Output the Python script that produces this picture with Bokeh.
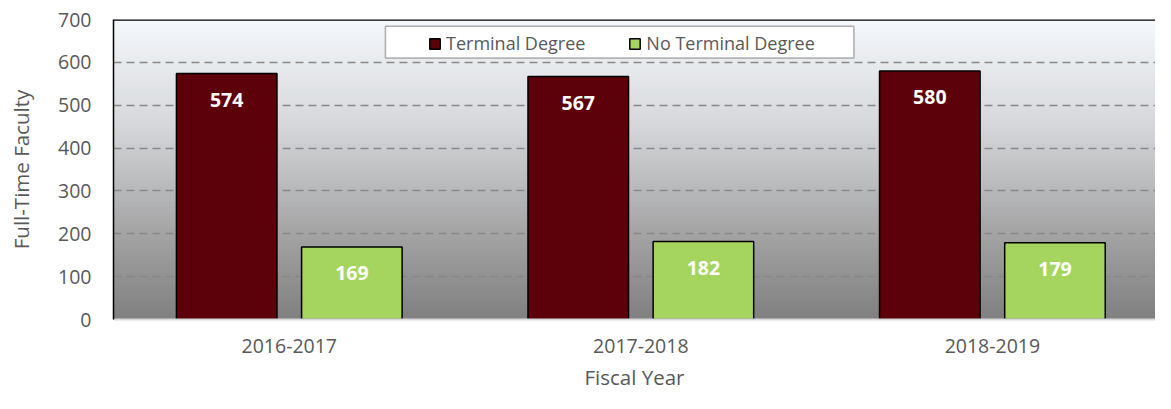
from bokeh.plotting import figure
from bokeh.models import (Range1d, FixedTicker, ColumnDataSource, Span, Legend,
                          LegendItem, BoxAnnotation)
from bokeh.core.properties import value
from bokeh.embed import file_html
from bokeh.resources import INLINE

# ---------------- data ----------------
years = ["2016-2017", "2017-2018", "2018-2019"]
terminal = [574, 567, 580]
no_terminal = [169, 182, 179]
y_ticks = [0, 100, 200, 300, 400, 500, 600, 700]
series_names = ["Terminal Degree", "No Terminal Degree"]

# ---------------- style ----------------
FONT = "Open Sans"
TXT = "#595959"
MAROON = "#5c0009"
GREEN = "#a5d55f"
X_END = 2.964          # the reference's plot area runs past the right edge
OFF = 0.178
BAR_W = 0.286

W, H = 1155, 393
p = figure(width=W, height=H, output_backend="svg", toolbar_location=None,
           x_range=Range1d(0, X_END), y_range=Range1d(0, 700),
           min_border_left=113, min_border_right=0, min_border_top=19,
           min_border_bottom=74)
p.border_fill_color = "white"
p.outline_line_color = None

# gradient plot-area background (light top -> gray bottom)
stops = [(0.0, (245, 248, 252)), (0.35, (214, 216, 219)),
         (0.7, (166, 166, 167)), (1.0, (128, 128, 128))]


def grad(t):
    for (t0, c0), (t1, c1) in zip(stops[:-1], stops[1:]):
        if t <= t1:
            f = (t - t0) / (t1 - t0)
            return "#%02x%02x%02x" % tuple(int(round(a + (b - a) * f)) for a, b in zip(c0, c1))
    return "#808080"


nb = 100
step = 700 / nb
bt, bb, bc = [], [], []
for i in range(nb):
    top = 700 - step * i
    bt.append(min(700, top + step * 0.5))
    bb.append(top - step)
    bc.append(grad((i + 0.5) / nb))
bg = p.quad(left=0, right=X_END, top=bt, bottom=bb, fill_color=bc,
            line_color=None)
bg.level = "image"

# grid
p.xgrid.visible = False
p.ygrid.ticker = FixedTicker(ticks=y_ticks[1:-1])
p.ygrid.grid_line_color = "#888888"
p.ygrid.grid_line_width = 1.5
p.ygrid.grid_line_dash = "8 5"

# top border line
p.add_layout(Span(location=700, dimension="width", line_color="black", line_width=2.5))

# bars
centers = [i + 0.5 for i in range(len(years))]
src = ColumnDataSource(dict(
    xt=[c - OFF for c in centers], xn=[c + OFF for c in centers],
    t=terminal, n=no_terminal,
    tl=[str(v) for v in terminal], nl=[str(v) for v in no_terminal]))

r1 = p.vbar(x="xt", top="t", width=BAR_W, source=src, fill_color=MAROON,
            line_color="black", line_width=1.5)
r2 = p.vbar(x="xn", top="n", width=BAR_W, source=src, fill_color=GREEN,
            line_color="black", line_width=1.5)

for xc, yc, lc in (("xt", "t", "tl"), ("xn", "n", "nl")):
    p.text(x=xc, y=yc, text=lc, source=src, text_color="white",
           text_font=value(FONT), text_font_style="bold", text_font_size="19.5px",
           text_align="center", text_baseline="middle", y_offset=26)

# axes
yax = p.yaxis[0]
yax.ticker = FixedTicker(ticks=y_ticks)
yax.axis_line_color = "black"
yax.axis_line_width = 1.5
yax.major_tick_line_color = None
yax.minor_tick_line_color = None
yax.major_tick_out = 0
yax.major_label_standoff = 22
yax.major_label_text_font = FONT
yax.major_label_text_font_size = "19.5px"
yax.major_label_text_color = TXT
yax.axis_label = "Full-Time Faculty"
yax.axis_label_text_font = FONT
yax.axis_label_text_font_size = "20.5px"
yax.axis_label_text_font_style = "normal"
yax.axis_label_text_color = TXT
yax.axis_label_standoff = 20

xax = p.xaxis[0]
xax.ticker = FixedTicker(ticks=centers)
xax.major_label_overrides = {c: y for c, y in zip(centers, years)}
xax.axis_line_color = "#d9d9d9"
xax.axis_line_width = 2
xax.major_tick_line_color = None
xax.minor_tick_line_color = None
xax.major_tick_out = 0
xax.major_label_standoff = 19
xax.major_label_text_font = FONT
xax.major_label_text_font_size = "19.5px"
xax.major_label_text_color = TXT
xax.axis_label = "Fiscal Year"
xax.axis_label_text_font = FONT
xax.axis_label_text_font_size = "20.5px"
xax.axis_label_text_font_style = "normal"
xax.axis_label_text_color = TXT
xax.axis_label_standoff = 7

# legend frame + legend
p.add_layout(BoxAnnotation(left=0.7735, right=2.106, bottom=610.3, top=684.3,
                           fill_color="white", fill_alpha=1.0,
                           line_color="black", line_width=1.5))
leg = Legend(items=[LegendItem(label=series_names[0], renderers=[r1]),
                    LegendItem(label=series_names[1], renderers=[r2])],
             orientation="horizontal", location=(315, 264),
             border_line_color=None, background_fill_alpha=0,
             padding=0, margin=0, spacing=43, label_standoff=5,
             glyph_width=13, glyph_height=13,
             label_text_font=FONT, label_text_font_size="18px",
             label_text_color=TXT)
p.add_layout(leg)

open("out.html", "w").write(file_html(p, INLINE))
